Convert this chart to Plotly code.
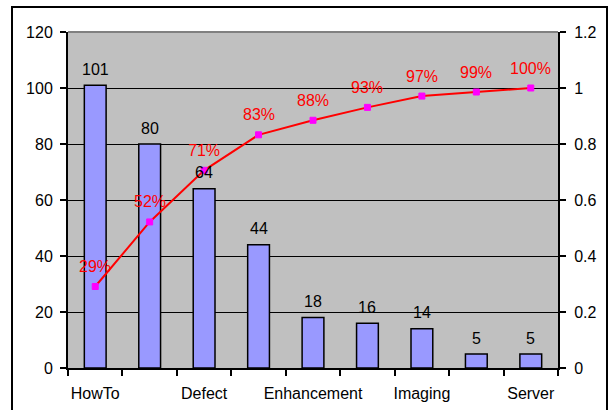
import plotly.graph_objects as go

# Issue counts by category, sorted descending (Pareto order)
categories = ["HowTo", "Usability", "Defect", "Performance", "Enhancement",
              "Documentation", "Imaging", "Install", "Server"]
counts = [101, 80, 64, 44, 18, 16, 14, 5, 5]
left_ticks = [0, 20, 40, 60, 80, 100, 120]
right_ticks = [0, 0.2, 0.4, 0.6, 0.8, 1, 1.2]

total = sum(counts)
cumulative = []
running = 0
for c in counts:
    running += c
    cumulative.append(running / total)

xs = list(range(len(categories)))
FONT = "Liberation Sans, Arial, sans-serif"

fig = go.Figure()
fig.add_trace(go.Bar(
    x=xs, y=counts, width=0.4,
    marker=dict(color="#9999FF", line=dict(color="black", width=1.5)),
    hoverinfo="x+y", showlegend=False,
))
fig.add_trace(go.Scatter(
    x=xs, y=cumulative, yaxis="y2", mode="lines+markers",
    line=dict(color="#FF0000", width=2),
    marker=dict(symbol="square", size=6, color="#FF00FF",
                line=dict(color="#FF00FF", width=1)),
    showlegend=False,
))

annotations = []
for x, v in zip(xs, counts):
    annotations.append(dict(x=x, y=v, xref="x", yref="y", text=str(v),
                            showarrow=False, yanchor="middle", yshift=16,
                            font=dict(family=FONT, size=16, color="black")))
for x, p in zip(xs, cumulative):
    annotations.append(dict(x=x, y=p, xref="x", yref="y2",
                            text=f"{round(p * 100)}%",
                            showarrow=False, yanchor="middle", yshift=20,
                            font=dict(family=FONT, size=16, color="#FF0000")))

W, H = 610, 410
L, R, T, B = 68, 52, 32, 42
pw, ph = W - L - R, H - T - B

def px(xp):
    return (xp - L) / pw

def py(yp):
    return (H - B - yp) / ph

shapes = [
    # plot area top edge
    dict(type="line", xref="paper", yref="paper", x0=0, x1=1, y0=1, y1=1,
         line=dict(color="#808080", width=2), layer="below"),
    # chart border
    dict(type="rect", xref="paper", yref="paper",
         x0=px(12), x1=px(607), y0=py(416), y1=py(7),
         line=dict(color="black", width=2), fillcolor="rgba(0,0,0,0)"),
]

fig.update_layout(
    width=W, height=H,
    margin=dict(l=L, r=R, t=T, b=B),
    paper_bgcolor="white", plot_bgcolor="#C0C0C0",
    font=dict(family=FONT, size=16, color="black"),
    bargap=0.6,
    annotations=annotations,
    shapes=shapes,
    xaxis=dict(
        range=[-0.5, len(categories) - 0.5],
        tickvals=xs[::2], ticktext=categories[::2],
        ticks="", showgrid=False, zeroline=False,
        showline=True, linecolor="black", linewidth=2,
        ticklabelstandoff=10, automargin=False,
        minor=dict(tickvals=[i - 0.5 for i in range(len(categories) + 1)],
                   ticks="outside", ticklen=6, tickwidth=2,
                   tickcolor="black", showgrid=False),
        fixedrange=True,
    ),
    yaxis=dict(
        range=[0, 120], tickvals=left_ticks,
        ticks="outside", ticklen=6, tickwidth=2, tickcolor="black",
        showline=True, linecolor="black", linewidth=2,
        showgrid=True, gridcolor="black", gridwidth=1,
        zeroline=False, ticklabelstandoff=4, automargin=False,
    ),
    yaxis2=dict(
        range=[0, 1.2], tickvals=right_ticks,
        ticktext=[f"{v:g}" for v in right_ticks],
        overlaying="y", side="right",
        ticks="outside", ticklen=6, tickwidth=2, tickcolor="black",
        showline=True, linecolor="black", linewidth=2,
        showgrid=False, zeroline=False, ticklabelstandoff=5,
        automargin=False,
    ),
)

fig.write_html("out.html")
